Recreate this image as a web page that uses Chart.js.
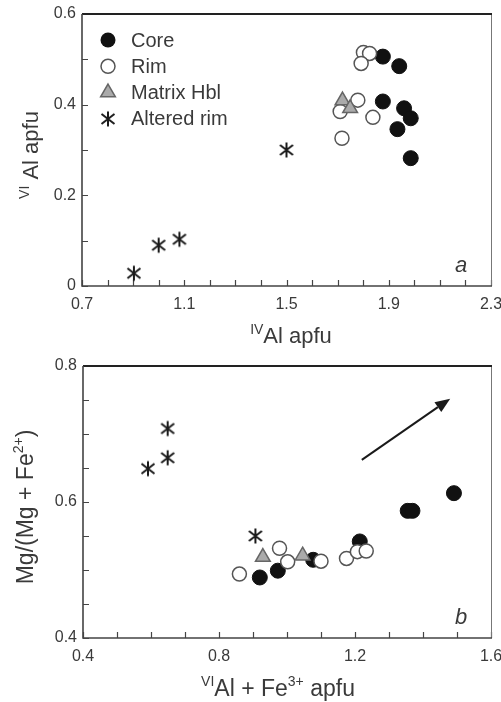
<!DOCTYPE html>
<html>
<head>
<meta charset="utf-8">
<style>
  body { margin: 0; background: #fff; }
  canvas { display: block; }
</style>
</head>
<body>
<canvas id="chartA" width="501" height="352"></canvas>
<canvas id="chartB" width="501" height="350"></canvas>
<script src="https://cdn.jsdelivr.net/npm/chart.js@4.4.1/dist/chart.umd.min.js"></script>
<script>
	// panel a: IV Al (x) vs VI Al (y)
	const coreA = [[1.877, 0.506], [1.941, 0.485], [1.877, 0.407], [1.960, 0.392], [1.986, 0.370], [1.934, 0.346], [1.986, 0.282]]
	const rimA = [[1.801, 0.515], [1.825, 0.513], [1.792, 0.491], [1.779, 0.410], [1.710, 0.385], [1.838, 0.372], [1.717, 0.326]]
	const matrixA = [[1.719, 0.409], [1.749, 0.392]]
	const alteredA = [[0.903, 0.028], [1.000, 0.090], [1.081, 0.103], [1.500, 0.300]]

	// panel b: VI Al + Fe3+ (x) vs Mg/(Mg + Fe2+) (y)
	const coreB = [[0.920, 0.489], [0.973, 0.499], [1.077, 0.515], [1.214, 0.542], [1.355, 0.587], [1.369, 0.587], [1.491, 0.613]]
	const rimB = [[0.860, 0.494], [0.978, 0.532], [1.002, 0.512], [1.100, 0.513], [1.175, 0.517], [1.207, 0.527], [1.233, 0.528]]
	const matrixB = [[0.929, 0.519], [1.046, 0.521]]
	const alteredB = [[0.591, 0.649], [0.649, 0.708], [0.649, 0.665], [0.907, 0.550]]
	const arrowB = [[1.22, 0.662], [1.48, 0.752]]

	const seriesNames = ["Core", "Rim", "Matrix Hbl", "Altered rim"]

	const xTicksA = ["0.7", "1.1", "1.5", "1.9", "2.3"]
	const yTicksA = ["0", "0.2", "0.4", "0.6"]
	const xTicksB = ["0.4", "0.8", "1.2", "1.6"]
	const yTicksB = ["0.4", "0.6", "0.8"]

	const fontFamily = "'Liberation Sans', Arial, sans-serif"
	const textColour = "#3a3a3a"

	function makeStar() {
		const c = document.createElement("canvas")
		c.width = 18
		c.height = 18
		const ctx = c.getContext("2d")
		ctx.strokeStyle = "#1a1a1a"
		ctx.lineWidth = 2
		ctx.beginPath()
		ctx.moveTo(9, 1.5); ctx.lineTo(9, 16.5)
		ctx.moveTo(2.5, 4); ctx.lineTo(15.5, 14)
		ctx.moveTo(15.5, 4); ctx.lineTo(2.5, 14)
		ctx.stroke()
		return c
	}
	const star = makeStar()

	function pts(arr) {
		return arr.map(p => ({ x: p[0], y: p[1] }))
	}

	function datasets(core, rim, matrix, altered) {
		return [
			{ label: seriesNames[0], data: pts(core), pointStyle: "circle", pointRadius: 7.5, backgroundColor: "#111", borderColor: "#111", borderWidth: 1, order: 4 },
			{ label: seriesNames[1], data: pts(rim), pointStyle: "circle", pointRadius: 7, backgroundColor: "#fff", borderColor: "#555", borderWidth: 1.5, order: 3 },
			{ label: seriesNames[2], data: pts(matrix), pointStyle: "triangle", pointRadius: 8.5, backgroundColor: "#aaa", borderColor: "#666", borderWidth: 1.5, order: 2 },
			{ label: seriesNames[3], data: pts(altered), pointStyle: star, pointRadius: 9, order: 1 }
		]
	}

	function axis(min, max, step, labels, isX, size) {
		return {
			type: "linear", min: min, max: max,
			grid: { display: false, drawTicks: false },
			border: { display: false },
			ticks: {
				stepSize: step, autoSkip: false, maxRotation: 0,
				padding: isX ? 9 : 6,
				color: textColour,
				font: { family: fontFamily, size: 16 },
				callback: function(v) {
					const s = labels.find(l => Math.abs(parseFloat(l) - v) < 1e-6)
					return s === undefined ? "" : s
				}
			},
			afterFit: function(scale) {
				if (isX) scale.height = size
				else scale.width = size
				// keep edge labels from shrinking the plot area
				scale.paddingLeft = 0
				scale.paddingRight = 0
				scale.paddingTop = 0
				scale.paddingBottom = 0
			}
		}
	}

	function drawRich(ctx, parts, x, y, size) {
		// parts: [text, isSuperscript]
		const sup = Math.round(size * 0.62)
		let w = 0
		parts.forEach(p => {
			ctx.font = (p[1] ? sup : size) + "px " + fontFamily
			w += ctx.measureText(p[0]).width
		})
		let cx = x - w / 2
		ctx.textAlign = "left"
		ctx.textBaseline = "alphabetic"
		parts.forEach(p => {
			ctx.font = (p[1] ? sup : size) + "px " + fontFamily
			ctx.fillText(p[0], cx, p[1] ? y - size * 0.42 : y)
			cx += ctx.measureText(p[0]).width
		})
	}

	function legendMarker(ctx, i, x, y) {
		ctx.save()
		if (i === 0) {
			ctx.fillStyle = "#111"
			ctx.beginPath(); ctx.arc(x, y, 7.5, 0, Math.PI * 2); ctx.fill()
		} else if (i === 1) {
			ctx.fillStyle = "#fff"; ctx.strokeStyle = "#555"; ctx.lineWidth = 1.5
			ctx.beginPath(); ctx.arc(x, y, 7, 0, Math.PI * 2); ctx.fill(); ctx.stroke()
		} else if (i === 2) {
			const r = 8.5
			ctx.fillStyle = "#aaa"; ctx.strokeStyle = "#666"; ctx.lineWidth = 1.5
			ctx.beginPath()
			ctx.moveTo(x, y - r)
			ctx.lineTo(x + Math.sin(Math.PI * 2 / 3) * r, y + r / 2)
			ctx.lineTo(x - Math.sin(Math.PI * 2 / 3) * r, y + r / 2)
			ctx.closePath(); ctx.fill(); ctx.stroke()
		} else {
			ctx.drawImage(star, x - 9, y - 9)
		}
		ctx.restore()
	}

	function framePlugin(cfg) {
		return {
			id: "frame" + cfg.letter,
			beforeDatasetsDraw(chart) {
				const ctx = chart.ctx
				const a = chart.chartArea
				const xs = chart.scales.x
				const ys = chart.scales.y
				ctx.save()
				ctx.strokeStyle = "#444"
				ctx.lineWidth = 1.2
				ctx.beginPath()
				xs.ticks.forEach(t => {
					const px = Math.round(xs.getPixelForValue(t.value)) + 0.5
					ctx.moveTo(px, a.bottom); ctx.lineTo(px, a.bottom - 6)
				})
				ys.ticks.forEach(t => {
					const py = Math.round(ys.getPixelForValue(t.value)) + 0.5
					ctx.moveTo(a.left, py); ctx.lineTo(a.left + 6, py)
				})
				ctx.stroke()
				// right edge
				ctx.strokeStyle = "#777"; ctx.lineWidth = 1
				ctx.beginPath(); ctx.moveTo(a.right + 0.5, a.top); ctx.lineTo(a.right + 0.5, a.bottom); ctx.stroke()
				// top edge
				ctx.strokeStyle = "#222"; ctx.lineWidth = 2
				ctx.beginPath(); ctx.moveTo(a.left, a.top); ctx.lineTo(a.right + 1, a.top); ctx.stroke()
				// axes
				ctx.strokeStyle = "#444"; ctx.lineWidth = 1.6
				ctx.beginPath()
				ctx.moveTo(a.left, a.top); ctx.lineTo(a.left, a.bottom); ctx.lineTo(a.right + 1, a.bottom)
				ctx.stroke()
				ctx.restore()
			},
			afterDraw(chart) {
				const ctx = chart.ctx
				const a = chart.chartArea
				ctx.save()
				ctx.fillStyle = textColour
				drawRich(ctx, cfg.xTitle, cfg.xTitlePos[0], cfg.xTitlePos[1], cfg.titleSize)
				ctx.save()
				ctx.translate(cfg.yTitlePos[0], cfg.yTitlePos[1])
				ctx.rotate(-Math.PI / 2)
				drawRich(ctx, cfg.yTitle, 0, 0, cfg.titleSize)
				ctx.restore()
				// panel letter
				ctx.font = "italic 22px " + fontFamily
				ctx.textAlign = "center"
				ctx.textBaseline = "middle"
				ctx.fillText(cfg.letter, a.right - 30, a.bottom - 20)
				if (cfg.legend) {
					ctx.font = "20px " + fontFamily
					ctx.textAlign = "left"
					seriesNames.forEach((name, i) => {
						const y = a.top + 26 + i * 26.3
						legendMarker(ctx, i, a.left + 26, y)
						ctx.fillStyle = textColour
						ctx.fillText(name, a.left + 49, y + 1)
					})
				}
				if (cfg.arrow) {
					const xs = chart.scales.x, ys = chart.scales.y
					const x0 = xs.getPixelForValue(cfg.arrow[0][0]), y0 = ys.getPixelForValue(cfg.arrow[0][1])
					const x1 = xs.getPixelForValue(cfg.arrow[1][0]), y1 = ys.getPixelForValue(cfg.arrow[1][1])
					const ang = Math.atan2(y1 - y0, x1 - x0)
					const hl = 15, hw = 6
					const bx = x1 - Math.cos(ang) * hl, by = y1 - Math.sin(ang) * hl
					ctx.strokeStyle = "#1a1a1a"; ctx.fillStyle = "#1a1a1a"; ctx.lineWidth = 2
					ctx.beginPath(); ctx.moveTo(x0, y0); ctx.lineTo(bx, by); ctx.stroke()
					ctx.beginPath()
					ctx.moveTo(x1, y1)
					ctx.lineTo(bx + Math.sin(ang) * hw, by - Math.cos(ang) * hw)
					ctx.lineTo(bx - Math.sin(ang) * hw, by + Math.cos(ang) * hw)
					ctx.closePath(); ctx.fill()
				}
				ctx.restore()
			}
		}
	}

	function newChart(id, data, scales, padding, cfg) {
		return new Chart(document.getElementById(id), {
			type: "scatter",
			data: { datasets: data },
			options: {
				responsive: false,
				animation: false,
				events: [],
				layout: { padding: padding },
				plugins: { legend: { display: false }, tooltip: { enabled: false } },
				scales: scales
			},
			plugins: [framePlugin(cfg)]
		})
	}

	newChart("chartA",
		datasets(coreA, rimA, matrixA, alteredA),
		{ x: axis(0.7, 2.3, 0.1, xTicksA, true, 66), y: axis(0, 0.6, 0.1, yTicksA, false, 82) },
		{ left: 0, right: 10, top: 14, bottom: 0 },
		{
			letter: "a", legend: true, titleSize: 22,
			xTitle: [["IV", true], ["Al apfu", false]], xTitlePos: [291, 343],
			yTitle: [["VI", true], [" Al apfu", false]], yTitlePos: [38, 155]
		})

	newChart("chartB",
		datasets(coreB, rimB, matrixB, alteredB),
		{ x: axis(0.4, 1.6, 0.1, xTicksB, true, 64), y: axis(0.4, 0.8, 0.05, yTicksB, false, 83) },
		{ left: 0, right: 10, top: 14, bottom: 0 },
		{
			letter: "b", arrow: arrowB, titleSize: 23,
			xTitle: [["VI", true], ["Al + Fe", false], ["3+", true], [" apfu", false]], xTitlePos: [278, 344],
			yTitle: [["Mg/(Mg + Fe", false], ["2+", true], [")", false]], yTitlePos: [33, 155]
		})
</script>
</body>
</html>
